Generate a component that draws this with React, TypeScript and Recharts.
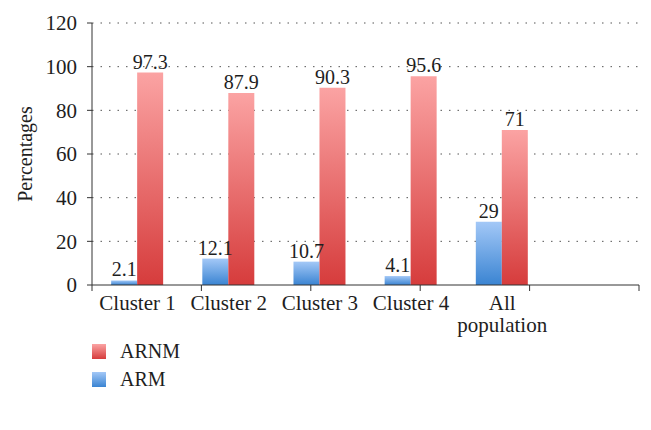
import { BarChart, Bar, XAxis, YAxis, CartesianGrid, LabelList, Legend } from "recharts"

const categories = ["Cluster 1", "Cluster 2", "Cluster 3", "Cluster 4", "All\npopulation", ""]
const armValues = [2.1, 12.1, 10.7, 4.1, 29, null]
const arnmValues = [97.3, 87.9, 90.3, 95.6, 71, null]
const yTicks = [0, 20, 40, 60, 80, 100, 120]
const edgeTicks = [0, 1, 2, 3, 4, 5, 6]

const data = categories.map((name, i) => ({ name, ARM: armValues[i], ARNM: arnmValues[i] }))

const FONT = "'Liberation Serif', serif"
const TEXT = "#1e1e1e"

// category label, may span two lines
const CategoryTick = ({ x, y, payload }: any) => {
  const lines = String(payload.value).split("\n")
  return (
    <text x={x} y={y} textAnchor="middle" fontFamily={FONT} fontSize={21} fill={TEXT}>
      {lines.map((line, i) => (
        <tspan key={i} x={x} dy={i === 0 ? 16 : 22}>
          {line}
        </tspan>
      ))}
    </text>
  )
}

const LegendBox = ({ payload }: any) => {
  const items = [...(payload || [])].reverse()
  return (
    <div style={{ height: 56, fontFamily: FONT, fontSize: 20, color: TEXT }}>
      {items.map((item: any) => (
        <div key={item.value} style={{ display: "flex", alignItems: "center", height: 28 }}>
          <div
            style={{
              width: 14,
              height: 15,
              marginRight: 14,
              background:
                item.value === "ARNM"
                  ? "linear-gradient(#fba3a3, #d63c3c)"
                  : "linear-gradient(#a3c8f7, #3a84d2)",
            }}
          />
          <span>{item.value}</span>
        </div>
      ))}
    </div>
  )
}

export default function App() {
  return (
    <div style={{ position: "absolute", left: 0, top: 0, background: "#fff" }}>
      <BarChart
        width={651}
        height={430}
        data={data}
        margin={{ top: 23, right: 12, left: 0, bottom: 37 }}
        barCategoryGap="21%"
        barGap={0}
      >
        <defs>
          <linearGradient id="gradArnm" x1="0" y1="0" x2="0" y2="1">
            <stop offset="0%" stopColor="#fba3a3" />
            <stop offset="100%" stopColor="#d63c3c" />
          </linearGradient>
          <linearGradient id="gradArm" x1="0" y1="0" x2="0" y2="1">
            <stop offset="0%" stopColor="#a3c8f7" />
            <stop offset="100%" stopColor="#3a84d2" />
          </linearGradient>
        </defs>
        <CartesianGrid
          xAxisId="b"
          vertical={false}
          horizontalValues={[20, 40, 60, 80, 100, 120]}
          stroke="#555"
          strokeDasharray="1.5 7"
        />
        <XAxis
          xAxisId="a"
          type="number"
          domain={[0, 6]}
          ticks={edgeTicks}
          height={1}
          tickSize={6}
          tickFormatter={() => ""}
          stroke="#333"
          allowDataOverflow
        />
        <XAxis
          xAxisId="b"
          dataKey="name"
          height={51}
          axisLine={false}
          tickLine={false}
          interval={0}
          tick={<CategoryTick />}
        />
        <YAxis
          width={92}
          domain={[0, 120]}
          ticks={yTicks}
          tickSize={5}
          tickMargin={10}
          stroke="#333"
          tick={{ fontFamily: FONT, fontSize: 21, fill: TEXT }}
          label={{
            value: "Percentages",
            angle: -90,
            position: "center",
            dx: -21,
            style: { fontFamily: FONT, fontSize: 20, fill: TEXT },
          }}
        />
        <Legend
          layout="horizontal"
          align="left"
          verticalAlign="bottom"
          height={56}
          wrapperStyle={{ left: 92, width: 200 }}
          content={<LegendBox />}
        />
        <Bar xAxisId="b" dataKey="ARM" fill="url(#gradArm)" isAnimationActive={false}>
          <LabelList
            dataKey="ARM"
            position="top"
            offset={4}
            style={{ fontFamily: FONT, fontSize: 20, fill: TEXT }}
          />
        </Bar>
        <Bar xAxisId="b" dataKey="ARNM" fill="url(#gradArnm)" isAnimationActive={false}>
          <LabelList
            dataKey="ARNM"
            position="top"
            offset={4}
            style={{ fontFamily: FONT, fontSize: 20, fill: TEXT }}
          />
        </Bar>
      </BarChart>
    </div>
  )
}
